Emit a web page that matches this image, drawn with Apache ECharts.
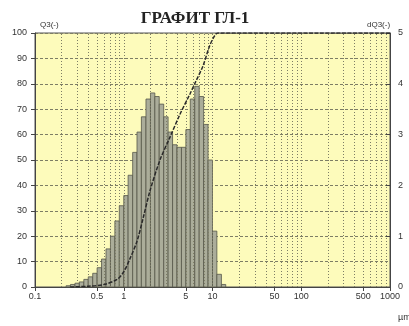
<!DOCTYPE html>
<html><head><meta charset="utf-8">
<script src="https://cdn.jsdelivr.net/npm/echarts@6/dist/echarts.min.js"></script>
<style>html,body{margin:0;padding:0;background:#fff}#c{width:409px;height:326px}</style>
</head><body><div id="c"></div>
<script>
// size class edges (µm) and density per class (dQ3, right axis)
const classEdges = [0.224,0.251,0.282,0.316,0.355,0.398,0.447,0.501,0.562,0.631,0.708,0.794,0.891,1.0,1.12,1.26,1.41,1.58,1.78,2.0,2.24,2.51,2.82,3.16,3.55,3.98,4.47,5.01,5.62,6.31,7.08,7.94,8.91,10.0,11.2,12.6,14.1];
const dq3 = [0.025,0.05,0.075,0.1,0.15,0.2,0.27,0.38,0.55,0.75,1.0,1.3,1.6,1.8,2.2,2.65,3.05,3.35,3.7,3.82,3.75,3.6,3.35,3.05,2.8,2.75,2.75,3.1,3.7,3.95,3.75,3.2,2.5,1.1,0.25,0.05];
// cumulative curve Q3 (%)
const q3Sizes = [0.25,0.4,0.6,0.84,1.0,1.17,1.41,1.65,1.98,2.56,3.32,4.3,5.57,6.5,7.8,9.3,10.6,11.5,1000];
const q3Values = [0,0.3,1,3,6,11,18,27,38,50,59,68,76,81,87,95,99,100,100];
// axis ticks
const xLabelValues = [0.1,0.5,1,5,10,50,100,500,1000];
const xGridValues = [0.2,0.3,0.4,0.5,0.6,0.7,0.8,0.9,1,2,3,4,5,6,7,8,9,10,20,30,40,50,60,70,80,90,100,200,300,400,500,600,700,800,900];
const titleText = 'ГРАФИТ ГЛ-1';

const histData = dq3.map((v, i) => [classEdges[i], classEdges[i + 1], v]);
const q3Data = q3Sizes.map((s, i) => [s, q3Values[i]]);

const chart = echarts.init(document.getElementById('c'), null, {renderer: 'canvas'});
const lblFont = {fontFamily: 'Liberation Sans Narrow, Liberation Sans, sans-serif', fontSize: 9, color: '#333'};
chart.setOption({
  animation: false,
  title: [
    {text: titleText, left: 190, top: 5, textAlign: 'center',
     textStyle: {fontFamily: 'Liberation Serif, DejaVu Serif, serif', fontWeight: 'bold', fontSize: 17, color: '#222'}},
    {text: 'Q3(-)', left: 35, top: 16, textStyle: Object.assign({}, lblFont, {fontSize: 8, fontWeight: 'normal'})},
    {text: 'dQ3(-)', left: 362, top: 16, textStyle: Object.assign({}, lblFont, {fontSize: 8, fontWeight: 'normal'})},
    {text: 'µm', left: 393, top: 308, textStyle: Object.assign({}, lblFont, {fontSize: 9, fontWeight: 'normal'})}
  ],
  grid: {left: 35, right: 19, top: 33, bottom: 39, show: true, backgroundColor: '#fdfbbb', borderColor: '#555', borderWidth: 1},
  xAxis: {
    type: 'log', logBase: 10, min: 0.1, max: 1000,
    axisLine: {show: true, lineStyle: {color: '#444'}},
    axisTick: {show: true, customValues: xLabelValues, length: 4, lineStyle: {color: '#444'}},
    axisLabel: Object.assign({customValues: xLabelValues, margin: 5, formatter: v => String(v)}, lblFont),
    splitLine: {show: false}, minorTick: {show: false}
  },
  yAxis: [
    {type: 'value', min: 0, max: 100, interval: 10, position: 'left',
     axisLine: {show: true, lineStyle: {color: '#444'}},
     axisTick: {show: true, length: 4, lineStyle: {color: '#444'}},
     axisLabel: Object.assign({margin: 8}, lblFont),
     splitLine: {show: true, lineStyle: {color: '#7d7d65', type: [3, 2], width: 1}}},
    {type: 'value', min: 0, max: 5, interval: 1, position: 'right',
     axisLine: {show: true, lineStyle: {color: '#444'}},
     axisTick: {show: true, length: 4, inside: true, lineStyle: {color: '#444'}},
     axisLabel: Object.assign({margin: 8}, lblFont),
     splitLine: {show: false}}
  ],
  series: [
    {type: 'line', name: 'grid', data: [], silent: true,
     markLine: {silent: true, symbol: 'none', label: {show: false},
       lineStyle: {color: '#7d7d65', type: [1, 2], width: 1},
       data: xGridValues.map(v => ({xAxis: v}))}},
    {type: 'custom', name: 'dQ3', yAxisIndex: 1, data: histData,
     encode: {x: [0, 1], y: 2},
     renderItem: (params, api) => {
       const p0 = api.coord([api.value(0), 0]);
       const p1 = api.coord([api.value(1), api.value(2)]);
       return {type: 'rect', shape: {x: p0[0], y: p1[1], width: p1[0] - p0[0], height: p0[1] - p1[1]},
         style: {fill: '#abad9a', stroke: '#55574a', lineWidth: 0.8}};
     }},
    {type: 'line', name: 'Q3', data: q3Data, smooth: 0.3, showSymbol: false,
     lineStyle: {color: '#2a2a2a', width: 1.5, type: [4, 1.5]}, z: 5}
  ]
});
</script></body></html>
